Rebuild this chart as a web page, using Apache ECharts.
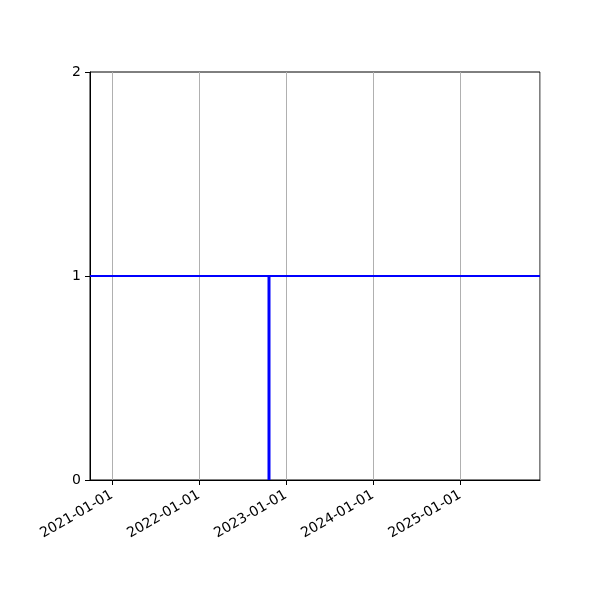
<!DOCTYPE html>
<html>
<head>
<meta charset="utf-8">
<script src="https://cdn.jsdelivr.net/npm/echarts@6/dist/echarts.min.js"></script>
<style>
  html, body { margin: 0; padding: 0; background: #fff; }
  #main { width: 600px; height: 600px; }
</style>
</head>
<body>
<div id="main"></div>
<script>
// x range and the two blue lines
var xMin = '2020-10-01';
var xMax = '2025-12-02';
var levelDates = ['2020-10-01', '2025-12-02'];
var levelValues = [1, 1];
var dropDates = ['2022-10-22', '2022-10-22'];
var dropValues = [0, 1];
var yTicks = [0, 1, 2];

var chart = echarts.init(document.getElementById('main'));

var YEAR = 365 * 24 * 3600 * 1000;

var option = {
  animation: false,
  grid: {
    left: 90, right: 60, top: 72, bottom: 120,
    show: true, borderColor: '#000', borderWidth: 1,
    backgroundColor: 'transparent'
  },
  xAxis: {
    type: 'time',
    min: xMin,
    max: xMax,
    minInterval: YEAR,
    maxInterval: YEAR + 24 * 3600 * 1000,
    axisLine: { onZero: false, lineStyle: { color: '#000', width: 1 } },
    axisTick: { show: true, length: 5, lineStyle: { color: '#000' } },
    splitLine: { show: true, lineStyle: { color: '#b0b0b0', width: 1 } },
    axisLabel: {
      rotate: 30,
      color: '#000',
      fontSize: 14,
      fontFamily: 'DejaVu Sans',
      margin: 14,
      showMinLabel: false,
      showMaxLabel: false,
      formatter: '{yyyy}-{MM}-{dd}'
    }
  },
  yAxis: {
    type: 'value',
    min: yTicks[0],
    max: yTicks[yTicks.length - 1],
    interval: 1,
    axisLine: { show: true, lineStyle: { color: '#000', width: 1 } },
    axisTick: { show: true, length: 5, lineStyle: { color: '#000' } },
    splitLine: { show: false },
    axisLabel: { color: '#000', fontSize: 14, fontFamily: 'DejaVu Sans', margin: 9 }
  },
  series: [
    {
      type: 'line',
      data: levelDates.map(function (d, i) { return [d, levelValues[i]]; }),
      showSymbol: false,
      lineStyle: { color: '#0000ff', width: 2 },
      clip: true
    },
    {
      type: 'line',
      data: dropDates.map(function (d, i) { return [d, dropValues[i]]; }),
      showSymbol: false,
      lineStyle: { color: '#0000ff', width: 3 },
      clip: true
    }
  ]
};
chart.setOption(option);
</script>
</body>
</html>
